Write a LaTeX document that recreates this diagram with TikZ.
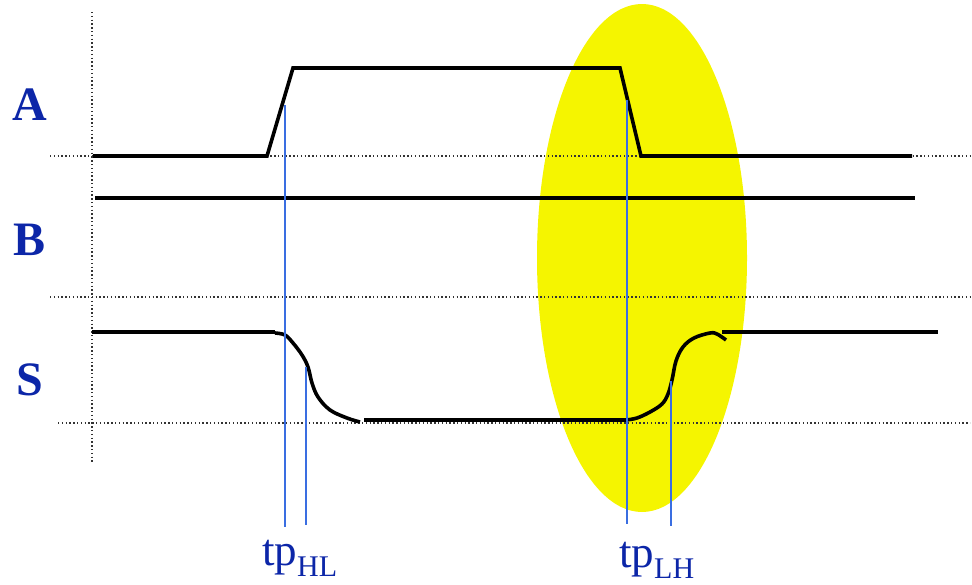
\documentclass[tikz,border=0pt]{standalone}
\usepackage{fontspec}
\setmainfont{Liberation Serif}
\definecolor{hiyellow}{RGB}{245,245,0}
\definecolor{markblue}{RGB}{58,110,225}
\definecolor{lblblue}{RGB}{12,38,168}
\begin{document}
\begin{tikzpicture}[x=1pt,y=-1pt,
  sig/.style={line width=3.6pt, line join=miter, black},
  guide/.style={line width=1.4pt, dash pattern=on 1.4pt off 2.4pt, black!80},
  marker/.style={line width=2.4pt, draw=markblue},
  lbl/.style={text=lblblue, inner sep=0pt},
]
\useasboundingbox (0,0) rectangle (972,584);
% yellow ellipse
\fill[hiyellow] (642,258) ellipse [x radius=105, y radius=254];
% dotted guides
\draw[guide] (92,12) -- (92,462);
\draw[guide] (50,156) -- (970,156);
\draw[guide] (50,297) -- (970,297);
\draw[guide] (58,423) -- (970,423);
% signal A
\draw[sig] (93,156) -- (267,156) -- (293,68) -- (620,68) -- (641,156) -- (912,156);
% signal B
\draw[sig] (95,198) -- (915,198);
% signal S
\draw[sig] (92,332) -- (275,332);
\draw[sig] plot[smooth, tension=0.6] coordinates {(275,333) (285,335) (293,343) (302,355) (308,367) (312,383) (318,397) (330,410) (347,418) (360,422)};
\draw[sig] (364,420) -- (628,420);
\draw[sig] plot[smooth, tension=0.6] coordinates {(626,420) (637,418) (650,412) (662,404) (668,394) (672,380) (676,361) (683,347) (694,338) (710,333) (717,334) (726,340)};
\draw[sig] (722,332) -- (938,332);
% blue markers
\draw[marker] (285,105) -- (285,527);
\draw[marker] (306,367) -- (306,525);
\draw[marker] (627,100) -- (627,524);
\draw[marker] (671,381) -- (671,526);
% labels
\node[lbl, font=\fontsize{48}{50}\selectfont\bfseries] (la) at (30,105) {A};
\node[lbl, font=\fontsize{48}{50}\selectfont\bfseries] (lb) at (30,240) {B};
\node[lbl, font=\fontsize{48}{50}\selectfont\bfseries] (ls) at (30,380) {S};
\node[lbl, anchor=base west, font=\fontsize{45}{48}\selectfont] (thl) at (262,565) {tp\textsubscript{\fontsize{30}{32}\selectfont HL}};
\node[lbl, anchor=base west, font=\fontsize{45}{48}\selectfont] (tlh) at (619,567) {tp\textsubscript{\fontsize{30}{32}\selectfont LH}};
\end{tikzpicture}
\end{document}
